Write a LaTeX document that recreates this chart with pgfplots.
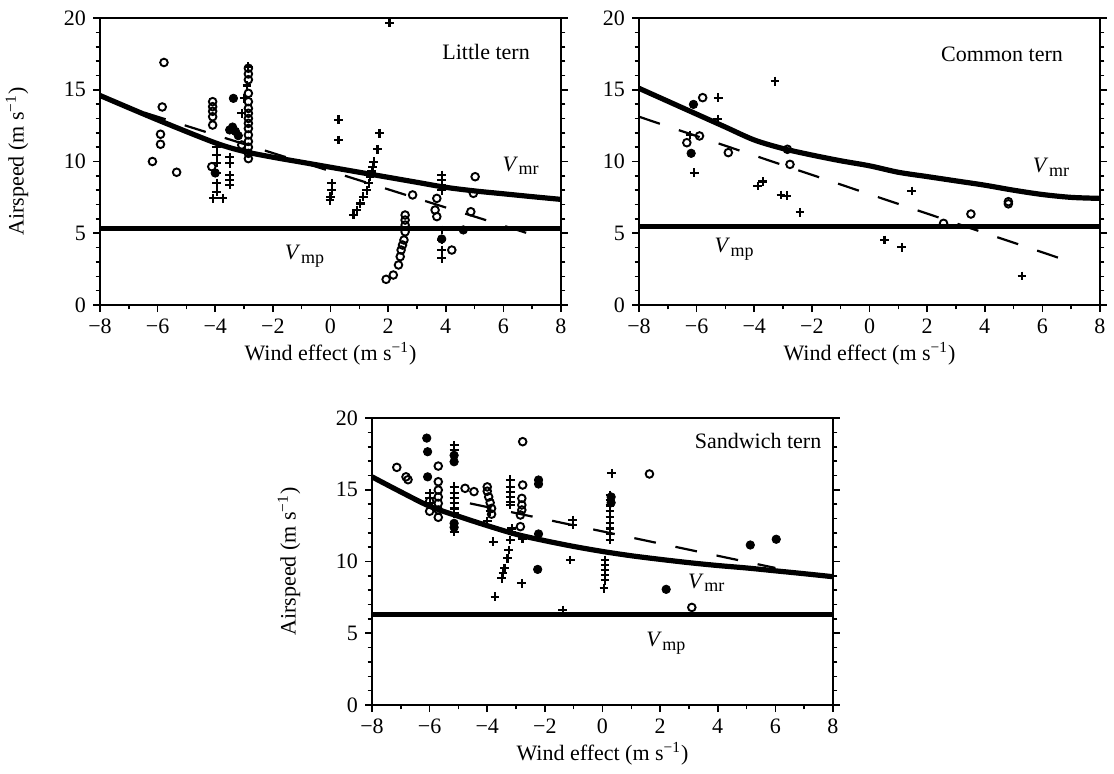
\documentclass[border=0pt]{standalone}
\usepackage{fontspec}
\setmainfont{Liberation Serif}
\usepackage{pgfplots}
\pgfplotsset{compat=1.18}
\tikzset{lab/.style={font=\fontsize{11}{13}\selectfont}}
\pgfplotsset{
 ternaxis/.style={
  scale only axis, width=230.5pt, height=143.5pt,
  xmin=-8,xmax=8,ymin=0,ymax=20,
  xtick={-8,-6,...,8}, xticklabels={−8,−6,−4,−2,0,2,4,6,8},
  ytick={0,5,10,15,20},
  minor x tick num=1, minor y tick num=4,
  tick align=outside, xtick pos=left, ytick pos=both, yticklabel pos=left,
  major tick length=3.5pt, minor tick length=2.2pt,
  tick style={black, line width=0.8pt},
  axis line style={line width=1pt},
  /pgf/number format/assume math mode=true,
  tick label style={font=\fontsize{11}{13}\selectfont},
  label style={font=\fontsize{11}{13}\selectfont},
  xlabel={Wind effect (m s\textsuperscript{−1})},
  xlabel style={at={(axis description cs:0.5,-0.17)},anchor=center},
  ylabel style={at={(axis description cs:-0.18,0.5)},anchor=center},
  clip=false,
 },
 opn/.style={only marks, mark=o, mark size=1.9pt, mark options={line width=0.95pt}, black},
 fil/.style={only marks, mark=*, mark size=2.1pt, black},
 pls/.style={only marks, mark=+, mark size=2.2pt, mark options={line width=1.1pt}, black},
 vmr/.style={black, line width=2.6pt, smooth, no marks},
 vmp/.style={black, line width=2.5pt, no marks},
 reg/.style={black, line width=1.1pt, dash pattern=on 11pt off 10pt, no marks},
}
\newcommand{\Vs}[1]{\textit{V}\kern0.3pt\raisebox{-0.35ex}{\fontsize{9}{10}\selectfont #1}}
\begin{document}
\begin{tikzpicture}
\path[use as bounding box] (0,0) rectangle (557pt,386.5pt);
% ---------------- Little tern
\begin{axis}[ternaxis, at={(50pt,234pt)}, anchor=south west, ylabel={Airspeed (m s\textsuperscript{−1})}]
\addplot[vmr] coordinates {(-8,14.6)(-6,12.9)(-4,11.3)(-3,10.7)(-2,10.3)(-1,9.95)(0,9.6)(1,9.25)(2,8.9)(3,8.55)(4,8.2)(5,7.95)(6,7.75)(7,7.55)(8,7.36)};
\addplot[vmp] coordinates {(-8,5.3)(8,5.3)};
\addplot[reg] coordinates {(-6.45,13.4)(7.0,4.9)};
\addplot[opn] coordinates {(-5.78,16.9)(-5.84,13.8)(-5.9,11.9)(-5.9,11.2)(-6.18,10.0)(-5.34,9.25)
(-4.09,14.17)(-4.09,13.82)(-4.09,13.5)(-4.09,13.12)(-4.09,12.54)(-4.12,9.64)(-3.08,11.15)
(-2.85,16.5)(-2.85,16.1)(-2.85,15.7)(-2.85,14.75)(-2.85,14.17)(-2.85,13.7)(-2.85,13.36)(-2.85,13.0)(-2.85,12.66)(-2.85,12.3)(-2.85,11.85)(-2.85,11.4)(-2.85,11.0)(-2.85,10.57)(-2.85,10.2)
(2.85,7.67)(2.59,6.27)(2.59,5.92)(2.59,5.57)(2.59,5.1)(2.55,4.53)(2.5,4.18)(2.45,3.83)(2.42,3.37)(2.36,2.79)(2.18,2.09)(1.93,1.79)
(3.69,7.43)(3.63,6.62)(3.69,6.16)(4.21,3.83)(5.02,8.94)(4.96,7.78)(4.87,6.5)};
\addplot[fil] coordinates {(-3.37,14.4)(-3.4,12.4)(-3.3,12.1)(-3.5,12.2)(-4.0,9.2)(-3.2,11.8)(3.86,4.6)(4.61,5.23)};
\addplot[pls] coordinates {(-3.95,11.0)(-3.95,10.45)(-3.95,9.9)(-3.95,9.2)(-3.95,8.5)(-3.95,7.9)(-4.07,7.43)(-3.74,7.43)
(-3.5,10.3)(-3.5,9.87)(-3.5,9.06)(-3.5,8.7)(-3.5,8.36)(-3.08,13.36)(-2.85,16.6)(-2.9,15.3)(-3.0,14.4)
(2.05,19.67)(0.28,12.9)(0.28,11.5)(0.04,8.48)(0.04,8.0)(0.0,7.55)(-0.02,7.3)(1.7,11.96)(1.63,10.85)
(1.5,9.99)(1.47,9.64)(1.43,9.3)(1.37,8.94)(1.33,8.48)(1.26,8.0)(1.14,7.55)(1.03,7.08)(0.91,6.62)(0.8,6.27)
(3.86,9.06)(3.86,8.7)(3.86,8.36)(3.86,8.0)(3.86,5.23)(3.86,4.53)(3.86,3.83)(3.86,3.25)};
\node[lab] at (axis cs:5.4,17.65) {Little tern};
\node[lab] at (axis cs:6.6,9.7) {\Vs{mr}};
\node[lab] at (axis cs:-0.9,3.4) {\Vs{mp}};
\end{axis}
% ---------------- Common tern
\begin{axis}[ternaxis, at={(319.5pt,234pt)}, anchor=south west]
\addplot[vmr] coordinates {(-8,15.1)(-7,14.2)(-6,13.3)(-5,12.4)(-4,11.5)(-3,10.9)(-2,10.45)(-1,10.05)(0,9.7)(1,9.25)(2,8.95)(3,8.65)(4,8.35)(5,8.0)(6,7.7)(7,7.5)(8,7.43)};
\addplot[vmp] coordinates {(-8,5.46)(8,5.46)};
\addplot[reg] coordinates {(-8,13.12)(7.14,2.9)};
\addplot[opn] coordinates {(-5.79,14.45)(-5.9,11.78)(-6.34,11.31)(-4.9,10.62)(-2.76,9.8)(-2.85,10.85)(2.57,5.69)(3.52,6.34)(4.82,7.2)(4.82,7.05)};
\addplot[fil] coordinates {(-6.11,13.98)(-6.19,10.57)};
\addplot[pls] coordinates {(-5.25,14.45)(-5.27,12.94)(-6.23,11.85)(-6.08,9.22)(-3.28,15.6)(-3.88,8.29)(-3.71,8.6)(-3.07,7.67)(-2.87,7.62)(-2.41,6.46)(1.47,7.94)(0.52,4.53)(1.12,4.02)(5.29,2.02)};
\node[lab] at (axis cs:4.6,17.5) {Common tern};
\node[lab] at (axis cs:6.3,9.6) {\Vs{mr}};
\node[lab] at (axis cs:-4.7,3.9) {\Vs{mp}};
\end{axis}
% ---------------- Sandwich tern
\begin{axis}[ternaxis, at={(186pt,34pt)}, anchor=south west, ylabel={Airspeed (m s\textsuperscript{−1})}]
\addplot[vmr] coordinates {(-8,15.9)(-7,14.85)(-6,13.85)(-5,13.15)(-4,12.5)(-3,11.9)(-2,11.45)(-1,11.05)(0,10.7)(1,10.4)(2,10.15)(3,9.92)(4,9.72)(5,9.55)(6,9.35)(7,9.15)(8,8.94)};
\addplot[vmp] coordinates {(-8,6.34)(8,6.34)};
\addplot[reg] coordinates {(-4.6,14.05)(6.0,9.55)};
\addplot[opn] coordinates {(-7.14,16.56)(-6.82,15.9)(-6.75,15.7)(-5.7,16.65)(-5.7,15.56)(-5.7,14.98)(-5.7,14.5)(-5.7,14.05)(-5.7,13.59)(-5.7,13.08)(-4.77,15.1)(-4.46,14.87)(-4.0,15.2)(-4.0,14.9)(-3.95,14.5)(-3.9,14.1)(-3.85,13.7)(-3.85,13.3)(-2.77,18.35)(-2.77,15.33)(-2.8,14.4)(-2.8,13.94)(-2.8,13.59)(-2.85,13.24)(-2.85,12.43)(1.63,16.1)(3.1,6.8)(-6.0,14.2)(-6.0,13.5)};
\addplot[fil] coordinates {(-6.1,18.6)(-6.07,17.65)(-6.07,15.9)(-5.15,17.4)(-5.15,16.95)(-5.15,12.66)(-5.15,12.38)(-2.22,15.68)(-2.22,15.4)(-2.22,11.92)(-2.25,9.45)(0.3,14.5)(0.3,14.1)(2.21,8.06)(5.13,11.15)(6.03,11.55)};
\addplot[pls] coordinates {(-6.0,14.75)(-6.0,14.4)(-6.0,14.05)(-5.15,18.1)(-5.15,17.77)(-5.15,15.2)(-5.15,14.75)(-5.15,14.4)(-5.15,14.05)(-5.15,13.7)(-5.15,13.36)(-5.15,12.08)(-3.79,11.38)(-3.2,15.7)(-3.2,15.2)(-3.2,14.87)(-3.2,14.5)(-3.2,14.17)(-3.2,13.94)(-3.15,12.3)(-3.15,12.08)(-3.2,11.5)(-3.25,10.8)(-3.3,10.22)(-3.4,9.52)(-3.45,9.18)(-3.5,8.83)(-3.73,7.55)(-2.8,8.48)(-2.78,11.6)(-1.03,12.89)(-1.03,12.54)(-1.12,10.1)(-1.38,6.62)(0.32,16.14)(0.26,14.63)(0.26,14.3)(0.26,13.9)(0.26,13.5)(0.26,13.1)(0.26,12.7)(0.26,12.3)(0.26,11.9)(0.26,11.5)(0.09,10.1)(0.09,9.75)(0.09,9.4)(0.09,9.05)(0.09,8.7)(0.05,8.13)(-4.0,12.8)(-3.9,13.5)};
\node[lab] at (axis cs:5.4,18.4) {Sandwich tern};
\node[lab] at (axis cs:3.6,8.5) {\Vs{mr}};
\node[lab] at (axis cs:2.2,4.3) {\Vs{mp}};
\end{axis}
\end{tikzpicture}
\end{document}
